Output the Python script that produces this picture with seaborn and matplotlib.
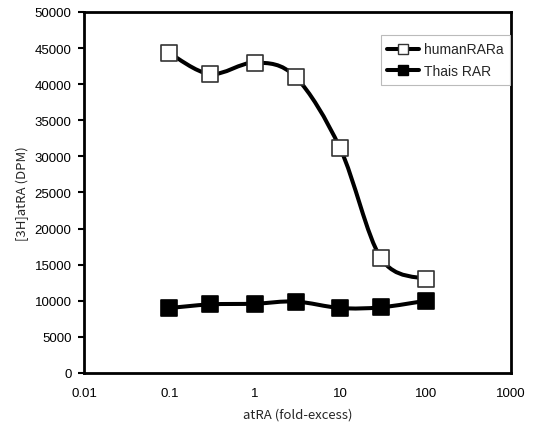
import numpy as np
import matplotlib
matplotlib.use('Agg')
import matplotlib.pyplot as plt
import seaborn as sns
from matplotlib.path import Path
from matplotlib.patches import PathPatch
from matplotlib.lines import Line2D

# data
fold = [0.1, 0.3, 1, 3, 10, 30, 100]
human_rara = [44300, 41400, 43000, 41000, 31100, 15900, 13000]
thais_rar = [9000, 9500, 9600, 9900, 9000, 9100, 10000]
y_ticks = [0, 5000, 10000, 15000, 20000, 25000, 30000, 35000, 40000, 45000, 50000]
x_ticks = [0.01, 0.1, 1, 10, 100, 1000]
x_ticklabels = ['0.01', '0.1', '1', '10', '100', '1000']

sns.set_style('white')
plt.rcParams['font.family'] = ['Liberation Sans', 'DejaVu Sans']


def smooth_path(xs, ys):
    # Excel-style smoothed line: Catmull-Rom as cubic Bezier in log-x space
    p = np.column_stack([np.log10(xs), ys]).astype(float)
    ext = np.vstack([p[0], p, p[-1]])
    verts = [p[0]]
    codes = [Path.MOVETO]
    for i in range(len(p) - 1):
        a, b, c, d = ext[i], ext[i + 1], ext[i + 2], ext[i + 3]
        c1 = b + (c - a) / 6.0
        c2 = c - (d - b) / 6.0
        verts += [c1, c2, c]
        codes += [Path.CURVE4] * 3
    verts = np.array(verts)
    verts[:, 0] = 10 ** verts[:, 0]
    return Path(verts, codes)


fig = plt.figure(figsize=(5.34, 4.27), dpi=100)
ax = fig.add_axes([84 / 534, 1 - 374 / 427, (511 - 84) / 534, (374 - 13) / 427])
ax.set_xscale('log')

for ys in [human_rara, thais_rar]:
    ax.add_patch(PathPatch(smooth_path(fold, ys), facecolor='none',
                           edgecolor='black', lw=2.9, zorder=2))

sns.scatterplot(x=fold, y=human_rara, marker='s', s=135, color='white',
                edgecolor='#333333', linewidth=1.2, ax=ax, zorder=3)
sns.scatterplot(x=fold, y=thais_rar, marker='s', s=135, color='black',
                edgecolor='black', linewidth=1.2, ax=ax, zorder=3)

ax.set_xlim(0.01, 1000)
ax.set_ylim(0, 50000)
ax.set_xticks(x_ticks)
ax.set_xticklabels(x_ticklabels)
ax.minorticks_off()
ax.set_yticks(y_ticks)
ax.tick_params(axis='both', direction='out', width=1.5,
               labelsize=9.5, colors='black', left=True, bottom=True)
ax.tick_params(axis='y', length=4, pad=5)
ax.tick_params(axis='x', length=0, pad=10)

for s in ax.spines.values():
    s.set_linewidth(2)
    s.set_color('black')

ax.set_xlabel('atRA (fold-excess)', fontsize=9.5,
              family=['Noto Sans CJK JP', 'DejaVu Sans'], labelpad=6)
ax.set_ylabel('[3H]atRA (DPM)', fontsize=9.5,
              family=['Noto Sans CJK JP', 'DejaVu Sans'], labelpad=4)

handles = [
    Line2D([], [], color='black', lw=2.9, marker='s', markersize=7,
           markerfacecolor='white', markeredgecolor='#333333'),
    Line2D([], [], color='black', lw=2.9, marker='s', markersize=7,
           markerfacecolor='black', markeredgecolor='black'),
]
leg = ax.legend(handles, ['humanRARa', 'Thais RAR'], loc='upper right',
                bbox_to_anchor=(0.998, 0.935), fontsize=10, frameon=True,
                fancybox=False, edgecolor='#bbbbbb', framealpha=1,
                handlelength=2.3, handletextpad=0.3, borderpad=0.5,
                labelspacing=0.55, borderaxespad=0.0)
leg.get_frame().set_linewidth(0.8)

fig.savefig('out.png', dpi=100)
